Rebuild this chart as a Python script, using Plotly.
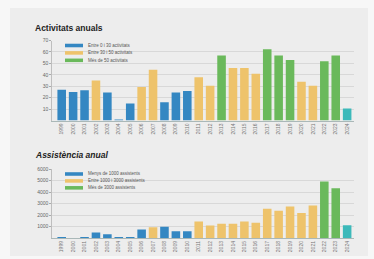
import plotly.graph_objects as go

W, H = 374, 259

years = [str(y) for y in range(1999, 2025)]

activitats = [27, 25, 26.5, 35, 24.5, 1, 15, 29.5, 44.5, 16, 24.5, 26, 38, 30.5, 57, 46, 46, 41, 62.5, 57, 53, 34, 30.5, 52, 57, 10.5]
act_cat = ["b", "b", "b", "y", "b", "b", "b", "y", "y", "b", "b", "b", "y", "y", "g",
           "y", "y", "y", "g", "g", "g", "y", "y", "g", "g", "t"]

assistencia = [100, 0, 100, 500, 350, 100, 100, 750, 950, 1000, 600, 600, 1450, 1100, 1250,
               1250, 1450, 1350, 2550, 2380, 2750, 2180, 2830, 4930, 4330, 1130]
ass_cat = ["b", "b", "b", "b", "b", "b", "b", "b", "y", "b", "b", "b", "y", "y", "y",
           "y", "y", "y", "y", "y", "y", "y", "y", "g", "g", "t"]

act_legend = ["Entre 0 i 30 activitats", "Entre 30 i 50 activitats", "Més de 50 activitats"]
ass_legend = ["Menys de 1000 assistents", "Entre 1000 i 3000 assistents", "Més de 3000 assistents"]

act_ticks = [10, 20, 30, 40, 50, 60, 70]
ass_ticks = [1000, 2000, 3000, 4000, 5000, 6000]

COL = {"b": "#3487c2", "y": "#eec36b", "g": "#6ab95b", "t": "#3cb9ba"}
FONT = "Liberation Sans, Arial, sans-serif"


def px(x):
    return x / W


def py(y):
    return 1 - y / H


fig = go.Figure()
fig.add_trace(go.Bar(x=years, y=activitats, marker_color=[COL[c] for c in act_cat],
                     marker_line_width=0, xaxis="x", yaxis="y", showlegend=False))
fig.add_trace(go.Bar(x=years, y=assistencia, marker_color=[COL[c] for c in ass_cat],
                     marker_line_width=0, xaxis="x2", yaxis="y2", showlegend=False))

xdom = [px(52), px(354)]
xcommon = dict(type="category", range=[-0.85, 25.6], tickangle=-90, showgrid=False,
               tickfont=dict(size=5, color="#777", family=FONT), ticks="",
               showline=True, linecolor="#9aa", linewidth=0.8, fixedrange=True)
ycommon = dict(showgrid=True, gridcolor="#d2d2d2", gridwidth=0.8, zeroline=False,
               showline=True, linecolor="#aaa", linewidth=0.7, ticks="outside", ticklen=2,
               tickcolor="#aaa", tickfont=dict(size=5, color="#666", family=FONT))

fig.update_layout(
    width=W, height=H, margin=dict(l=0, r=0, t=0, b=0),
    paper_bgcolor="#f7f7f7", plot_bgcolor="rgba(0,0,0,0)",
    barmode="overlay", bargap=0.25, showlegend=False,
    xaxis=dict(domain=xdom, anchor="y", **xcommon),
    yaxis=dict(domain=[py(119), py(38)], anchor="x", range=[0, 70], tickvals=act_ticks, **ycommon),
    xaxis2=dict(domain=xdom, anchor="y2", **xcommon),
    yaxis2=dict(domain=[py(238), py(168)], anchor="x2", range=[0, 6000], tickvals=ass_ticks, **ycommon),
)

shapes = [
    dict(type="rect", xref="paper", yref="paper", x0=px(10), x1=px(368), y0=py(256), y1=py(5),
         fillcolor="#ededed", line_width=0, layer="below"),
    dict(type="rect", xref="paper", yref="paper", x0=px(56), x1=px(140), y0=py(64), y1=py(36),
         fillcolor="#ededed", line_width=0, layer="between"),
    dict(type="rect", xref="paper", yref="paper", x0=px(56), x1=px(163), y0=py(194), y1=py(164),
         fillcolor="#ededed", line_width=0, layer="between"),
]
annotations = [
    dict(text="<b>Activitats anuals</b>", x=px(33), y=py(25), xref="paper", yref="paper",
         xanchor="left", yanchor="middle", showarrow=False, font=dict(size=8.5, color="#222", family=FONT)),
    dict(text="<b><i>Assistència anual</i></b>", x=px(33), y=py(154), xref="paper", yref="paper",
         xanchor="left", yanchor="middle", showarrow=False, font=dict(size=8.5, color="#222", family=FONT)),
    dict(text="*", x=years[-1], y=activitats[-1], xref="x", yref="y", yanchor="bottom", yshift=1,
         showarrow=False, font=dict(size=6, color="#555", family=FONT)),
    dict(text="*", x=years[-1], y=assistencia[-1], xref="x2", yref="y2", yanchor="bottom", yshift=1,
         showarrow=False, font=dict(size=6, color="#555", family=FONT)),
]

for ys, labels in (([43, 50.5, 58], act_legend), ([173, 180, 187], ass_legend)):
    for yy, lab, c in zip(ys, labels, ["b", "y", "g"]):
        shapes.append(dict(type="rect", xref="paper", yref="paper", x0=px(65), x1=px(83),
                           y0=py(yy + 1.8), y1=py(yy - 1.8), fillcolor=COL[c], line_width=0,
                           layer="above"))
        annotations.append(dict(text=lab, x=px(86), y=py(yy), xref="paper", yref="paper",
                                xanchor="left", yanchor="middle", showarrow=False,
                                font=dict(size=4.5, color="#555", family=FONT)))

fig.update_layout(shapes=shapes, annotations=annotations)
fig.write_html("out.html", config={"displayModeBar": False, "staticPlot": True},
               post_script="document.body.style.margin='0';document.body.style.overflow='hidden';")
